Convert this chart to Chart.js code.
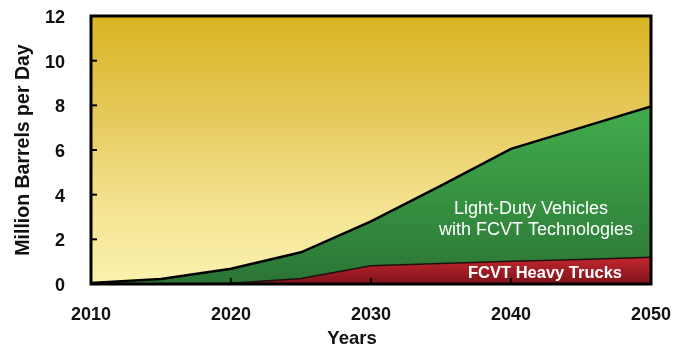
<!DOCTYPE html>
<html>
<head>
<meta charset="utf-8">
<script src="https://cdn.jsdelivr.net/npm/chart.js@4/dist/chart.umd.min.js"></script>
<style>
  html, body { margin: 0; padding: 0; background: #fff; }
  #wrap { width: 678px; height: 350px; }
</style>
</head>
<body>
<div id="wrap"><canvas id="c" width="678" height="350"></canvas></div>
<script>
// values (million barrels per day)
const years = [2010, 2015, 2020, 2025, 2030, 2035, 2040, 2045, 2050];
const heavyTrucks = [0, 0, 0.03, 0.25, 0.82, 0.92, 1.02, 1.1, 1.2];
const totalSavings = [0.05, 0.22, 0.68, 1.42, 2.8, 4.4, 6.05, 7.0, 7.95];
const yTicks = [0, 2, 4, 6, 8, 10, 12];
const xTicks = [2010, 2020, 2030, 2040, 2050];

const FONT = "'Liberation Sans', Arial, sans-serif";

function pts(vals) {
  return years.map((y, i) => ({ x: y, y: vals[i] }));
}

// 배경 그라데이션 + 테두리, 안쪽 눈금
const frame = {
  id: 'frame',
  beforeDatasetsDraw(chart) {
    const { ctx, chartArea: a } = chart;
    const g = ctx.createLinearGradient(0, a.top, 0, a.bottom);
    g.addColorStop(0, '#dab522');
    g.addColorStop(0.35, '#e4c757');
    g.addColorStop(0.7, '#f4e290');
    g.addColorStop(1, '#fbf2ae');
    ctx.save();
    ctx.fillStyle = g;
    ctx.fillRect(a.left, a.top, a.right - a.left, a.bottom - a.top);
    ctx.restore();
  },
  afterDatasetsDraw(chart) {
    const { ctx, chartArea: a, scales } = chart;
    ctx.save();
    ctx.strokeStyle = '#000';
    ctx.lineWidth = 3;
    ctx.strokeRect(a.left, a.top, a.right - a.left, a.bottom - a.top);
    ctx.lineWidth = 2;
    yTicks.forEach(v => {
      const y = scales.y.getPixelForValue(v);
      ctx.beginPath();
      ctx.moveTo(a.left, y);
      ctx.lineTo(a.left + 6, y);
      ctx.stroke();
    });
    xTicks.forEach(v => {
      const x = scales.x.getPixelForValue(v);
      ctx.beginPath();
      ctx.moveTo(x, a.bottom);
      ctx.lineTo(x, a.bottom - 6);
      ctx.stroke();
    });
    // 영역 라벨
    ctx.fillStyle = '#fff';
    ctx.textAlign = 'center';
    ctx.textBaseline = 'middle';
    ctx.font = '18px ' + FONT;
    ctx.fillText('Light-Duty Vehicles', 531, 209);
    ctx.fillText('with FCVT Technologies', 536, 230);
    ctx.font = 'bold 16.5px ' + FONT;
    ctx.fillText('FCVT Heavy Trucks', 545, 273);
    // x축 제목 (살짝 왼쪽)
    ctx.fillStyle = '#111';
    ctx.font = 'bold 18.5px ' + FONT;
    ctx.fillText('Years', 352, 339);
    ctx.restore();
  }
};

const ctx = document.getElementById('c').getContext('2d');
new Chart(ctx, {
  type: 'line',
  data: {
    datasets: [
      {
        label: 'FCVT Heavy Trucks',
        data: pts(heavyTrucks),
        fill: 'origin',
        borderColor: '#1e1010',
        borderWidth: 1.5,
        pointRadius: 0,
        tension: 0,
        backgroundColor: function (context) {
          const a = context.chart.chartArea;
          if (!a) return '#a81e28';
          const ys = context.chart.scales.y;
          const g = context.chart.ctx.createLinearGradient(0, ys.getPixelForValue(1.2), 0, a.bottom);
          g.addColorStop(0, '#c4262f');
          g.addColorStop(1, '#7e131a');
          return g;
        }
      },
      {
        label: 'Light-Duty Vehicles with FCVT Technologies',
        data: pts(totalSavings),
        fill: '-1',
        borderColor: '#000',
        borderWidth: 2.5,
        pointRadius: 0,
        tension: 0,
        backgroundColor: function (context) {
          const a = context.chart.chartArea;
          if (!a) return '#36903f';
          const ys = context.chart.scales.y;
          const g = context.chart.ctx.createLinearGradient(0, ys.getPixelForValue(8), 0, a.bottom);
          g.addColorStop(0, '#42ab4c');
          g.addColorStop(0.5, '#379342');
          g.addColorStop(1, '#2b7434');
          return g;
        }
      }
    ]
  },
  options: {
    responsive: false,
    animation: false,
    layout: { padding: { top: 16, right: 27, left: 0, bottom: 0 } },
    plugins: { legend: { display: false }, tooltip: { enabled: false } },
    scales: {
      x: {
        type: 'linear',
        min: 2010,
        max: 2050,
        afterFit(s) { s.height = 66; s.paddingLeft = 0; s.paddingRight = 0; },
        afterBuildTicks(s) { s.ticks = xTicks.map(v => ({ value: v })); },
        grid: { display: false, drawTicks: false },
        border: { display: false },
        ticks: {
          padding: 20,
          color: '#111',
          font: { family: FONT, size: 18, weight: 'bold' },
          callback: v => String(v)
        }
      },
      y: {
        min: 0,
        max: 12,
        afterFit(s) { s.width = 91; s.paddingTop = 0; s.paddingBottom = 0; },
        afterBuildTicks(s) { s.ticks = yTicks.map(v => ({ value: v })); },
        grid: { display: false, drawTicks: false },
        border: { display: false },
        ticks: {
          padding: 26,
          labelOffset: 2,
          color: '#111',
          font: { family: FONT, size: 18, weight: 'bold' }
        },
        title: {
          display: true,
          text: 'Million Barrels per Day',
          color: '#111',
          padding: { top: 12, bottom: 0 },
          font: { family: FONT, size: 19.5, weight: 'bold' }
        }
      }
    }
  },
  plugins: [frame]
});
</script>
</body>
</html>
